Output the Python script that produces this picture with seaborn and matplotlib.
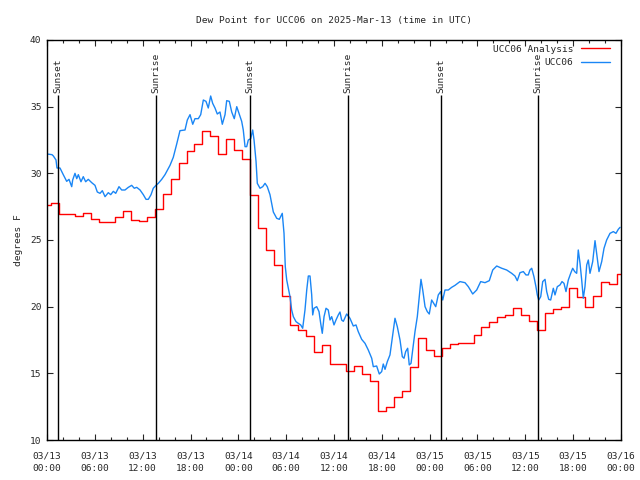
import numpy as np
import pandas as pd
import matplotlib
matplotlib.use('Agg')
import matplotlib.pyplot as plt
import seaborn as sns

# Hourly analysis dew point (deg F), hours after 03/13 00:00 UTC
analysis_hours = list(range(73))
analysis_dew = [27.6, 27.75, 26.95, 26.95, 26.8, 27.05, 26.6, 26.35, 26.35, 26.75,
                27.2, 26.5, 26.4, 26.7, 27.3, 28.45, 29.55, 30.8, 31.65, 32.2,
                33.2, 32.8, 31.45, 32.6, 31.75, 31.1, 28.35, 25.93, 24.25, 23.1,
                20.8, 18.6, 18.25, 17.8, 16.6, 17.1, 15.67, 15.67, 15.15, 15.55,
                14.95, 14.4, 12.2, 12.5, 13.25, 13.7, 15.5, 17.65, 16.75, 16.3,
                16.87, 17.17, 17.25, 17.25, 17.9, 18.45, 18.83, 19.25, 19.38, 19.88,
                19.38, 18.93, 18.25, 19.5, 19.8, 20.0, 21.4, 20.7, 19.95, 20.8,
                21.83, 21.68, 22.43]

# Station observations (irregular times, hours after 03/13 00:00 UTC)
obs_hours = [0.0, 0.63, 0.8, 1.13, 1.25, 1.63, 2.04, 2.47, 2.76, 3.1,
             3.22, 3.51, 3.73, 3.93, 4.26, 4.55, 4.85, 5.18, 5.61, 6.02,
             6.31, 6.65, 6.94, 7.28, 7.69, 7.99, 8.32, 8.62, 9.03, 9.37,
             9.78, 10.2, 10.62, 10.95, 11.25, 11.67, 12.08, 12.42, 12.71, 13.05,
             13.33, 13.67, 13.96, 14.39, 14.8, 15.43, 15.84, 16.27, 16.68, 17.31,
             17.6, 17.94, 18.28, 18.56, 18.98, 19.28, 19.61, 19.94, 20.23, 20.53,
             20.78, 21.07, 21.36, 21.7, 21.99, 22.33, 22.54, 22.87, 23.17, 23.49,
             23.8, 24.08, 24.42, 24.62, 24.84, 25.05, 25.25, 25.55, 25.8, 25.97,
             26.22, 26.38, 26.72, 27.06, 27.35, 27.63, 27.97, 28.39, 28.81, 29.14,
             29.51, 29.73, 29.89, 30.07, 30.27, 30.48, 30.69, 30.9, 31.23, 31.52,
             31.82, 32.07, 32.36, 32.58, 32.78, 32.99, 33.2, 33.33, 33.49, 33.83,
             34.12, 34.33, 34.53, 34.75, 35.0, 35.28, 35.5, 35.71, 36.0, 36.25,
             36.54, 36.75, 36.96, 37.17, 37.59, 38.0, 38.42, 38.76, 39.04, 39.47,
             39.89, 40.3, 40.73, 40.93, 41.35, 41.68, 41.98, 42.18, 42.4, 42.69,
             43.02, 43.31, 43.65, 43.94, 44.28, 44.57, 44.78, 44.99, 45.24, 45.44,
             45.66, 45.87, 46.16, 46.45, 46.7, 46.91, 47.13, 47.42, 47.7, 47.95,
             48.25, 48.46, 48.76, 49.08, 49.38, 49.64, 49.92, 50.34, 50.76, 51.18,
             51.8, 52.43, 52.85, 53.4, 53.9, 54.4, 54.94, 55.48, 55.91, 56.41,
             57.04, 57.66, 58.29, 58.7, 58.99, 59.33, 59.75, 60.08, 60.37, 60.58,
             60.8, 61.08, 61.33, 61.5, 61.68, 61.93, 62.18, 62.47, 62.68, 62.93,
             63.18, 63.51, 63.72, 64.01, 64.35, 64.6, 64.85, 65.1, 65.39, 65.69,
             65.94, 66.19, 66.44, 66.64, 66.86, 67.07, 67.27, 67.48, 67.7, 67.9,
             68.11, 68.45, 68.74, 68.95, 69.24, 69.58, 69.87, 70.2, 70.62, 71.04,
             71.37, 71.66, 71.88]
obs_dew = [31.45, 31.4, 31.3, 31.0, 30.4, 30.4, 29.9, 29.4, 29.55, 29.0,
           29.5, 30.0, 29.6, 29.9, 29.37, 29.75, 29.37, 29.55, 29.3, 29.1,
           28.6, 28.5, 28.7, 28.25, 28.55, 28.4, 28.65, 28.5, 29.0, 28.75,
           28.75, 28.95, 29.1, 28.88, 28.95, 28.75, 28.4, 28.05, 28.05, 28.4,
           28.88, 29.1, 29.25, 29.55, 29.9, 30.6, 31.2, 32.2, 33.2, 33.25,
           34.0, 34.4, 33.68, 34.1, 34.1, 34.4, 35.5, 35.4, 34.9, 35.8,
           35.25, 34.9, 34.45, 34.6, 33.68, 34.4, 35.45, 35.4, 34.6, 34.1,
           35.0, 34.5, 33.9, 33.25, 32.0, 32.0, 32.5, 32.6, 33.25, 32.5,
           30.9, 29.25, 28.88, 29.0, 29.25, 29.0, 28.4, 27.1, 26.63, 26.55,
           27.0, 25.5, 23.0, 22.0, 21.38, 20.75, 19.75, 19.25, 18.88, 18.75,
           18.63, 18.38, 19.75, 21.25, 22.3, 22.3, 20.9, 19.38, 19.88, 20.0,
           19.63, 18.75, 18.0, 19.25, 19.88, 19.75, 19.0, 19.25, 18.63, 19.0,
           19.38, 19.6, 19.0, 18.9, 19.45, 19.13, 18.55, 18.63, 18.13, 17.55,
           17.25, 16.75, 16.13, 15.5, 15.55, 14.95, 15.13, 15.7, 15.3, 15.88,
           16.38, 17.63, 19.13, 18.5, 17.5, 16.25, 16.13, 16.63, 16.88, 15.63,
           15.75, 16.75, 18.13, 19.25, 20.75, 22.05, 21.25, 20.0, 19.63, 19.45,
           20.5, 20.3, 20.0, 20.88, 21.13, 20.5, 21.25, 21.25, 21.45, 21.6,
           21.88, 21.8, 21.5, 20.95, 21.25, 21.88, 21.8, 21.95, 22.75, 23.05,
           22.88, 22.75, 22.5, 22.3, 21.95, 22.55, 22.63, 22.38, 22.38, 22.75,
           22.88, 22.25, 21.5, 20.88, 20.5, 20.75, 21.88, 22.05, 21.13, 20.55,
           20.5, 21.38, 20.88, 21.5, 21.63, 21.88, 21.75, 21.13, 22.0, 22.5,
           22.88, 22.63, 22.5, 24.25, 23.25, 22.0, 20.63, 21.5, 23.13, 23.5,
           22.5, 23.38, 24.95, 24.0, 22.63, 23.38, 24.38, 25.0, 25.5, 25.63,
           25.5, 25.8, 25.95]

sun_hours = [1.38, 13.67, 25.47, 37.77, 49.43, 61.6]
sun_labels = ['Sunset', 'Sunrise', 'Sunset', 'Sunrise', 'Sunset', 'Sunrise']

tick_hours = list(range(0, 73, 6))
tick_labels = ['03/13\n00:00', '03/13\n06:00', '03/13\n12:00', '03/13\n18:00',
               '03/14\n00:00', '03/14\n06:00', '03/14\n12:00', '03/14\n18:00',
               '03/15\n00:00', '03/15\n06:00', '03/15\n12:00', '03/15\n18:00',
               '03/16\n00:00']

analysis = pd.DataFrame({'hour': analysis_hours, 'dew': analysis_dew})
obs = pd.DataFrame({'hour': obs_hours, 'dew': obs_dew})

sns.set_style('white')
plt.rcParams['font.family'] = ['DejaVu Sans Mono']
fs = 6.8

fig = plt.figure(figsize=(6.4, 4.8), dpi=100)
ax = fig.add_axes([47 / 640, 40 / 480, 574 / 640, 400 / 480])

sns.lineplot(data=analysis, x='hour', y='dew', ax=ax, color='#ff0000', lw=1.0,
             drawstyle='steps-mid', label='UCC06 Analysis')
sns.lineplot(data=obs, x='hour', y='dew', ax=ax, color='#1a86f5', lw=1.0,
             label='UCC06')

# sunrise / sunset markers
ax.vlines(sun_hours, 10, 35.9, color='black', lw=1.0)
for h, lab in zip(sun_hours, sun_labels):
    ax.text(h, 36.05, lab, rotation=90, ha='center', va='bottom', fontsize=fs)

ax.set_xlim(0, 72)
ax.set_ylim(10, 40)
ax.set_xticks(tick_hours)
ax.set_xticklabels(tick_labels, fontsize=fs, linespacing=1.5)
ax.set_xticks(range(0, 73, 2), minor=True)
ax.set_yticks(range(10, 41, 5))
ax.tick_params(axis='y', labelsize=fs)
ax.tick_params(which='major', direction='in', length=4, width=0.8,
               top=True, right=True, bottom=True, left=True, pad=4)
ax.tick_params(axis='x', which='major', pad=8)
ax.tick_params(which='minor', direction='in', length=2, width=0.8,
               top=True, bottom=True)
ax.set_xlabel('')
ax.set_ylabel('degrees F', fontsize=fs, labelpad=5)
ax.set_title('Dew Point for UCC06 on 2025-Mar-13 (time in UTC)', fontsize=fs, pad=12)
for s in ax.spines.values():
    s.set_color('black')
    s.set_linewidth(1.0)

ax.legend(loc='upper right', bbox_to_anchor=(1 - 6 / 574, 1), frameon=False,
          markerfirst=False, fontsize=fs, handlelength=3.1, handletextpad=0.8,
          labelspacing=0.45, borderpad=0.5, borderaxespad=0)

fig.savefig('out.png', dpi=100)
